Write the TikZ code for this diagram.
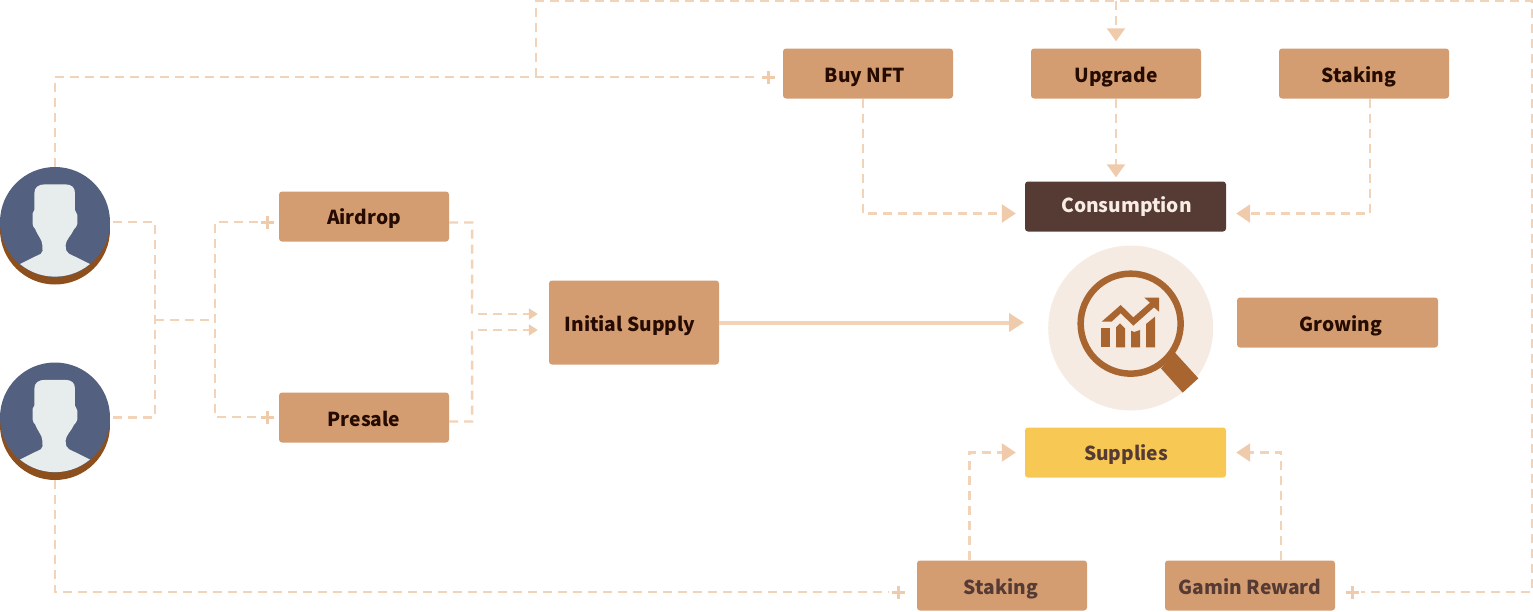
\documentclass[tikz,border=0pt]{standalone}
\usepackage{fontspec}
\setmainfont{Noto Sans CJK SC}
\usetikzlibrary{arrows.meta,calc}
\definecolor{boxc}{HTML}{D49D71}
\definecolor{darkb}{HTML}{563B35}
\definecolor{yel}{HTML}{F7C954}
\definecolor{ink}{HTML}{250B00}
\definecolor{paper}{HTML}{F8EDE3}
\definecolor{linec}{HTML}{F3D3B8}
\definecolor{tipc}{HTML}{EFCBAC}
\definecolor{halo}{HTML}{F5EBE3}
\definecolor{mag}{HTML}{A96530}
\definecolor{avblue}{HTML}{53607F}
\definecolor{avbrown}{HTML}{8D4F1C}
\definecolor{avface}{HTML}{E7ECEC}
\newcommand\lbl[3]{\hspace*{#1pt}\raisebox{#2pt}[0pt][0pt]{#3}}
\newcommand\plusmark[1]{\draw[plusline] ($(#1)+(-6.5,0)$) -- ($(#1)+(6.5,0)$); \draw[plusline] ($(#1)+(0,-6.5)$) -- ($(#1)+(0,6.5)$);}
\newcommand\persona[1]{%
\begin{scope}[shift={(0,#1)},x=0.3333pt,y=-0.3333pt]
\begin{scope}
\clip (165,216) circle[radius=164];
\fill[avface] (103,130) .. controls (103,112) and (115,103) .. (135,103) -- (195,103) .. controls (215,103) and (225,112) .. (225,130) -- (225,180) -- (232,195) -- (232,222) .. controls (232,230) and (225,232) .. (222,238) .. controls (215,255) and (197,270) .. (197,285) .. controls (197,300) and (200,307) .. (207,311) -- (272,343) -- (272,400) -- (58,400) -- (58,343) -- (123,311) .. controls (130,307) and (127,300) .. (127,285) .. controls (127,270) and (112,255) .. (105,236) .. controls (102,232) and (98,230) .. (98,222) -- (98,190) -- (103,180) -- cycle;
\end{scope}
\end{scope}}
\tikzset{
 box/.style={rounded corners=3pt,minimum width=170pt,minimum height=50pt,inner sep=0pt,fill=boxc,text=ink,font=\fontsize{19.2}{24}\selectfont\bfseries},
 widebox/.style={box,minimum width=201pt},
 dline/.style={draw=linec,line width=2.4pt,dash pattern=on 9pt off 6pt},
 arrowline/.style={dline,-{Triangle[length=14pt,width=18pt,color=tipc]}},
 smallarrow/.style={dline,-{Triangle[length=9pt,width=11pt,color=tipc]}},
 plusline/.style={draw=tipc,line width=3pt},
 solidarrow/.style={draw=linec,line width=4pt,-{Triangle[length=15pt,width=18pt,color=tipc]}},
 avatar/.style={circle,fill=avblue,minimum size=110pt,inner sep=0pt},
 avatarback/.style={circle,fill=avbrown,minimum size=110pt,inner sep=0pt},
}
\begin{document}
\begin{tikzpicture}[x=1pt,y=-1pt]
\useasboundingbox (0,0) rectangle (1533,611);
% avatars
\node[avatarback] (ub1) at (55,229.5) {};
\node[avatar] (u1) at (55,222) {};
\persona{150}
\node[avatarback] (ub2) at (55,425) {};
\node[avatar] (u2) at (55,417.5) {};
\persona{345.5}
% magnifier
\node[circle,fill=halo,minimum size=165pt,inner sep=0pt] (halo) at (1130.7,328) {};
\begin{scope}[shift={(1030,230)},x=0.3333pt,y=-0.3333pt]
\draw[mag,line width=6.5pt] (302,281) circle[radius=150];
\fill[mag] (435,368) -- (505,445) -- (458,488) -- (393,415) -- cycle;
\fill[mag] (213,293) rectangle (240,352);
\fill[mag] (258,292) -- (270,280) -- (285,295) -- (285,352) -- (258,352) -- cycle;
\fill[mag] (303,302) -- (313,306) -- (330,300) -- (330,352) -- (303,352) -- cycle;
\fill[mag] (348,282) -- (375,260) -- (375,352) -- (348,352) -- cycle;
\fill[mag] (215,275) -- (272,225) -- (310,262) -- (360,218) -- (343,203) -- (387,203) -- (387,245) -- (372,232) -- (310,287) -- (272,250) -- (245,275) -- cycle;
\end{scope}
% boxes
\node[box] (buy) at (868,73.5) {\lbl{-6}{-9}{Buy NFT}};
\node[box] (upgrade) at (1116,73.5) {\lbl{0}{-9}{Upgrade}};
\node[box] (stakeA) at (1364,73.5) {\lbl{-10}{-9}{Staking}};
\node[widebox,fill=darkb,text=paper] (cons) at (1125.5,206.5) {\lbl{2}{-6}{Consumption}};
\node[widebox] (grow) at (1337.5,322.5) {\lbl{7}{-9}{Growing}};
\node[widebox,fill=yel,text=darkb] (supp) at (1125.5,452.5) {\lbl{1}{-8}{Supplies}};
\node[box,text=darkb] (stakeB) at (1002,585.5) {\lbl{-2}{-9}{Staking}};
\node[box,text=darkb] (gamin) at (1250,585.5) {\lbl{0}{-9}{Gamin Reward}};
\node[box] (air) at (364,216.5) {\lbl{0}{-8}{Airdrop}};
\node[box] (pre) at (364,417.5) {\lbl{0}{-9}{Presale}};
\node[box,minimum height=84pt] (init) at (634,322.5) {\lbl{-8}{-9}{Initial Supply}};
% routing points
\coordinate (pbuy) at (768,77);
\coordinate (pair) at (267,222);
\coordinate (ppre) at (267,417);
\coordinate (pstake) at (898,592);
\coordinate (pgamin) at (1352,592);
\coordinate (branch) at (536,77);
\coordinate (tl) at (536,1);
\coordinate (tr) at (1532,1);
\coordinate (br) at (1532,592);
\coordinate (joinL) at (155,320);
\coordinate (joinR) at (215,320);
\plusmark{pbuy}
\plusmark{pair}
\plusmark{ppre}
\plusmark{pstake}
\plusmark{pgamin}
% connectors
\draw[dline] (u1.north) -- (u1.north |- branch) -- ([xshift=-9pt]pbuy);
\draw[dline] (branch) -- (tl) -- (tr) -- (br) -- ([xshift=9pt]pgamin);
\draw[arrowline,shorten >=7pt,-{Triangle[length=13pt,width=18pt,color=tipc]}] (upgrade.north |- tl) -- (upgrade.north);
\draw[dline] (u2.south |- ub2.south) -- (u2.south |- pstake) -- ([xshift=-9pt]pstake);
\draw[dline] ([xshift=3pt]u1.east) -- (joinL |- u1.east) -- (joinL |- u2.east) -- ([xshift=3pt]u2.east);
\draw[dline] (joinL) -- (joinR);
\draw[dline] ([xshift=-9pt]pair) -- (joinR |- pair) -- (joinR |- ppre) -- ([xshift=-9pt]ppre);
\draw[dline] ([yshift=-6pt]air.east) -- ++(23,0) -- (472,314);
\draw[smallarrow,shorten >=11pt] (478,314) -- (init.west |- 478,314);
\draw[dline] ([yshift=-4pt]pre.east) -- ++(23,0) -- (472,331);
\draw[smallarrow,shorten >=11pt] (478,330) -- (init.west |- 478,330);
\draw[solidarrow,shorten >=24pt] (init.east) -- (halo.west |- init.east);
\draw[arrowline,shorten >=9pt] ([xshift=-5pt]buy.south) |- ([yshift=-7pt]cons.west);
\draw[arrowline,shorten >=4pt,-{Triangle[length=13pt,width=18pt,color=tipc]}] (upgrade.south) -- (upgrade.south |- cons.north);
\draw[arrowline,shorten >=10pt] ([xshift=6pt]stakeA.south) |- ([yshift=-7pt]cons.east);
\draw[arrowline,shorten >=9pt] ([xshift=-32.5pt]stakeB.north) |- (supp.west);
\draw[arrowline,shorten >=10pt] ([xshift=31pt]gamin.north) |- (supp.east);
\end{tikzpicture}
\end{document}
